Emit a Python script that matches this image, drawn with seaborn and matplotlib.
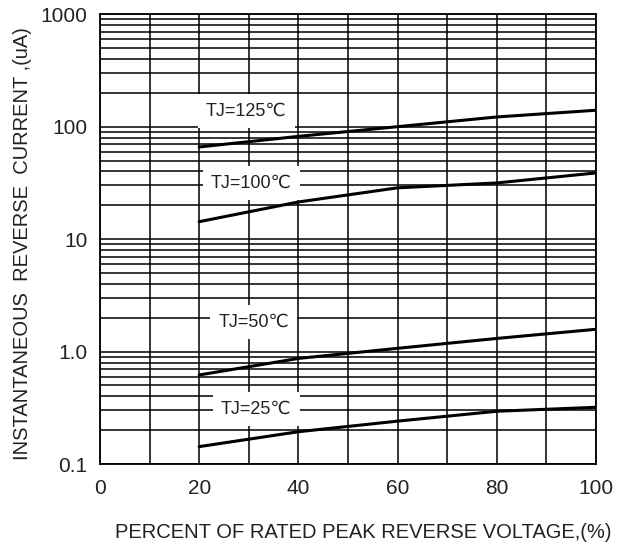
import matplotlib
matplotlib.use("Agg")
import matplotlib.pyplot as plt
import matplotlib.ticker as mticker
import pandas as pd
import seaborn as sns

pct = [20, 40, 60, 80, 100]
ir_125 = [66, 82, 100, 122, 140]
ir_100 = [14.3, 21.4, 28.6, 31.6, 38.8]
ir_50 = [0.62, 0.87, 1.07, 1.31, 1.58]
ir_25 = [0.143, 0.194, 0.241, 0.295, 0.32]

temps = ["TJ=125℃", "TJ=100℃", "TJ=50℃", "TJ=25℃"]
label_x = [29.5, 30.5, 31.0, 31.5]
label_y = [137, 31.5, 1.84, 0.31]

xticks = [0, 20, 40, 60, 80, 100]
yticks = [0.1, 1, 10, 100, 1000]
yticklabels = ["0.1", "1.0", "10", "100", "1000"]

df = pd.DataFrame({
    "pct": pct * 4,
    "ir": ir_125 + ir_100 + ir_50 + ir_25,
    "tj": [t for t in temps for _ in pct],
})

sns.set_style("white")
plt.rcParams["font.family"] = ["Liberation Sans", "DejaVu Sans"]

fig = plt.figure(figsize=(6.17, 5.46), dpi=100)
ax = fig.add_axes([0.162, 0.150, 0.804, 0.824])

sns.lineplot(data=df, x="pct", y="ir", hue="tj", palette=["black"] * 4,
             linewidth=2.2, legend=False, ax=ax)

ax.set_yscale("log")
ax.set_xlim(0, 100); ax.set_ylim(0.1, 1000)
ax.set_xticks(xticks)
ax.set_xticks(range(0, 101, 10), minor=True)
ax.set_yticks(yticks)
ax.set_yticklabels(yticklabels)
ax.yaxis.set_minor_locator(mticker.LogLocator(base=10, subs=range(2, 10)))
ax.yaxis.set_minor_formatter(mticker.NullFormatter())
ax.grid(True, which="both", color="black", linewidth=1.1)
ax.tick_params(which="both", length=0)
ax.tick_params(axis="x", pad=11, labelsize=15, colors="#222222")
ax.tick_params(axis="y", pad=9, labelsize=15, colors="#222222")
for sp in ax.spines.values():
    sp.set_color("black"); sp.set_linewidth(1.3)

for t, lx, ly in zip(temps, label_x, label_y):
    ax.text(lx, ly, t, ha="center", va="center", fontsize=13, color="#222222",
            bbox=dict(facecolor="white", edgecolor="none", pad=6), zorder=5)

ax.set_xlabel("PERCENT OF RATED PEAK REVERSE VOLTAGE,(%)", fontsize=14.5,
              color="#222222", labelpad=18)
ax.xaxis.label.set_x(0.53)
ax.set_ylabel("INSTANTANEOUS  REVERSE  CURRENT ,(uA)", fontsize=14.5,
              color="#222222", labelpad=6)
ax.yaxis.label.set_y(0.49)

fig.savefig("out.png", dpi=100)
